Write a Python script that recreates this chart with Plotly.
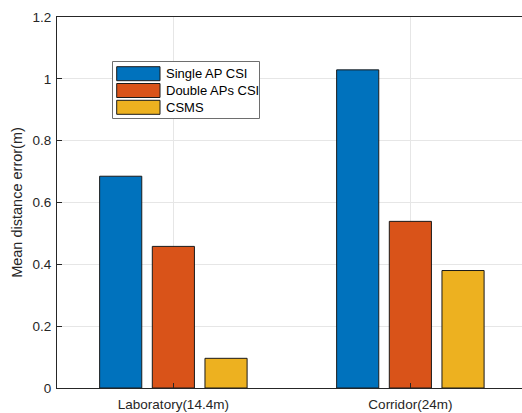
import plotly.graph_objects as go

categories = ["Laboratory(14.4m)", "Corridor(24m)"]
series_names = ["Single AP CSI", "Double APs CSI", "CSMS"]
single_ap = [0.685, 1.029]
double_aps = [0.458, 0.539]
csms = [0.096, 0.380]
series_values = [single_ap, double_aps, csms]
colors = ["#0072BD", "#D95319", "#EDB120"]
y_ticks = [0, 0.2, 0.4, 0.6, 0.8, 1, 1.2]
y_tick_labels = ["0", "0.2", "0.4", "0.6", "0.8", "1", "1.2"]

W, H = 522, 413
ML, MR, MT, MB = 57, 0, 17, 25
PW = W - ML - MR
PH = H - MT - MB

x_pos = [1, 2]

fig = go.Figure()
for name, vals, col in zip(series_names, series_values, colors):
    fig.add_trace(go.Bar(
        x=x_pos, y=vals, name=name,
        marker=dict(color=col, line=dict(color="#1a1a1a", width=1)),
        showlegend=False,
    ))

font_family = "Liberation Sans, Arial, Helvetica, sans-serif"
text_col = "#262626"

# custom MATLAB-style legend
def px(xp):
    return (xp - ML) / PW

def py(yp):
    return (H - MB - yp) / PH

shapes = []
annotations = []
shapes.append(dict(type="rect", xref="paper", yref="paper",
                   x0=px(112.5), x1=px(259.5), y0=py(118.5), y1=py(61.5),
                   line=dict(color="#6e6e6e", width=1), fillcolor="white", layer="above"))
row_tops = [66.7, 83.5, 100.3]
for name, col, top in zip(series_names, colors, row_tops):
    shapes.append(dict(type="rect", xref="paper", yref="paper",
                       x0=px(116.7), x1=px(160), y0=py(top + 14), y1=py(top),
                       line=dict(color="#1a1a1a", width=1), fillcolor=col, layer="above"))
    annotations.append(dict(xref="paper", yref="paper", x=px(164), y=py(top + 7),
                            text=name, showarrow=False, xanchor="left", yanchor="middle",
                            font=dict(family=font_family, size=13, color="#000000")))

fig.update_layout(
    width=W, height=H,
    margin=dict(l=ML, r=MR, t=MT, b=MB, pad=0),
    paper_bgcolor="white", plot_bgcolor="white",
    barmode="group", bargap=1/3, bargroupgap=0.2,
    font=dict(family=font_family, size=14, color=text_col),
    shapes=shapes, annotations=annotations,
    showlegend=False,
)
fig.update_xaxes(
    range=[0.509, 0.509 + PW / 237.0],
    tickmode="array", tickvals=x_pos, ticktext=categories,
    showgrid=True, gridcolor="#e6e6e6", gridwidth=1,
    showline=True, linecolor=text_col, linewidth=1, mirror=True,
    ticks="inside", ticklen=5, tickcolor=text_col,
    tickfont=dict(size=13.5, color=text_col),
    ticklabelstandoff=4,
    zeroline=False,
)
fig.update_yaxes(
    range=[0, 1.2],
    tickmode="array", tickvals=y_ticks, ticktext=y_tick_labels,
    showgrid=True, gridcolor="#e6e6e6", gridwidth=1,
    showline=True, linecolor=text_col, linewidth=1, mirror=False,
    ticks="inside", ticklen=5, tickcolor=text_col,
    tickfont=dict(size=13.5, color=text_col),
    ticklabelstandoff=2,
    zeroline=False,
    title=dict(text="Mean distance error(m)", font=dict(size=14.5, color=text_col), standoff=6),
)

fig.write_html("out.html")
